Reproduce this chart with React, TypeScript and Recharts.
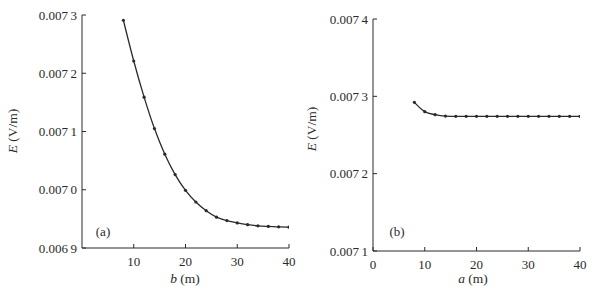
import React from 'react';
import { LineChart, Line, XAxis, YAxis } from 'recharts';

const bValues = [8, 10, 12, 14, 16, 18, 20, 22, 24, 26, 28, 30, 32, 34, 36, 38, 40];
const eValuesA = [
  0.007291, 0.007221, 0.007159, 0.007105, 0.007061, 0.007026, 0.006999, 0.006979,
  0.006964, 0.006953, 0.006947, 0.006943, 0.00694, 0.006938, 0.006937, 0.0069363, 0.0069357,
];
const aValues = [8, 10, 12, 14, 16, 18, 20, 22, 24, 26, 28, 30, 32, 34, 36, 38, 40];
const eValuesB = [
  0.0072922, 0.0072802, 0.0072763, 0.0072745, 0.0072742, 0.0072742, 0.0072742, 0.0072742,
  0.0072742, 0.0072742, 0.0072742, 0.0072742, 0.0072742, 0.0072742, 0.0072742, 0.0072742, 0.0072742,
];
const xTicksA = [10, 20, 30, 40];
const yTicksA = [0.0069, 0.007, 0.0071, 0.0072, 0.0073];
const xTicksB = [0, 10, 20, 30, 40];
const yTicksB = [0.0071, 0.0072, 0.0073, 0.0074];

const dataA = bValues.map((b, i) => ({ x: b, e: eValuesA[i] }));
const dataB = aValues.map((a, i) => ({ x: a, e: eValuesB[i] }));

const FONT = '"Liberation Serif", "Times New Roman", serif';
const INK = '#2a2a2a';

const fmtY = (v: number) => {
  const s = v.toFixed(4);
  return s.slice(0, -1) + '\u2009' + s.slice(-1);
};

const YTick = (props: any) => {
  const { x, y, payload } = props;
  return (
    <g>
      <line x1={x} y1={y} x2={x + 4} y2={y} stroke={INK} strokeWidth={1} />
      <text x={x - 5} y={y + 4.5} textAnchor="end" fontFamily={FONT} fontSize={13} fill={INK}>
        {fmtY(payload.value)}
      </text>
    </g>
  );
};

const XTick = (props: any) => {
  const { x, y, payload } = props;
  return (
    <g>
      <line x1={x} y1={y} x2={x} y2={y - 4} stroke={INK} strokeWidth={1} />
      <text x={x} y={y + 18} textAnchor="middle" fontFamily={FONT} fontSize={13} fill={INK}>
        {payload.value}
      </text>
    </g>
  );
};

const YLabel = ({ cx, cy }: { cx: number; cy: number }) => (
  <text
    x={cx}
    y={cy}
    transform={`rotate(-90 ${cx} ${cy})`}
    textAnchor="middle"
    dominantBaseline="central"
    fontFamily={FONT}
    fontSize={13.5}
    fill={INK}
  >
    <tspan fontStyle="italic">E</tspan>
    <tspan> (V/m)</tspan>
  </text>
);

const XLabel = ({ cx, cy, v }: { cx: number; cy: number; v: string }) => (
  <text x={cx} y={cy} textAnchor="middle" fontFamily={FONT} fontSize={13.5} fill={INK}>
    <tspan fontStyle="italic">{v}</tspan>
    <tspan> (m)</tspan>
  </text>
);

const Dot = (props: any) => {
  const { cx, cy } = props;
  return <circle cx={cx} cy={cy} r={1.6} fill={INK} stroke="none" />;
};

export default function App() {
  return (
    <div style={{ position: 'absolute', left: 0, top: 0, width: 611, height: 294, background: '#fff' }}>
      <div style={{ position: 'absolute', left: 0, top: 0 }}>
        <LineChart width={300} height={294} data={dataA} margin={{ top: 15, right: 11, bottom: 0, left: 22 }}>
          <XAxis
            dataKey="x"
            type="number"
            domain={[0, 40]}
            ticks={xTicksA}
            tickSize={0}
            tickMargin={0}
            tickLine={false}
            axisLine={{ stroke: INK, strokeWidth: 1 }}
            tick={<XTick />}
            height={46}
            allowDataOverflow
          />
          <YAxis
            dataKey="e"
            type="number"
            domain={[0.0069, 0.0073]}
            ticks={yTicksA}
            tickSize={0}
            tickMargin={0}
            tickLine={false}
            axisLine={{ stroke: INK, strokeWidth: 1 }}
            tick={<YTick />}
            width={60}
            allowDataOverflow
          />
          <Line
            type="monotone"
            dataKey="e"
            stroke={INK}
            strokeWidth={1.3}
            dot={<Dot />}
            activeDot={false}
            isAnimationActive={false}
          />
          <YLabel cx={12} cy={131} />
          <XLabel cx={185} cy={283} v="b" />
          <text x={103} y={236} textAnchor="middle" fontFamily={FONT} fontSize={13} fill={INK}>
            (a)
          </text>
        </LineChart>
      </div>
      <div style={{ position: 'absolute', left: 300, top: 0 }}>
        <LineChart width={311} height={294} data={dataB} margin={{ top: 19, right: 31, bottom: 0, left: 13 }}>
          <XAxis
            dataKey="x"
            type="number"
            domain={[0, 40]}
            ticks={xTicksB}
            tickSize={0}
            tickMargin={0}
            tickLine={false}
            axisLine={{ stroke: INK, strokeWidth: 1 }}
            tick={<XTick />}
            height={43}
            allowDataOverflow
          />
          <YAxis
            dataKey="e"
            type="number"
            domain={[0.0071, 0.0074]}
            ticks={yTicksB}
            tickSize={0}
            tickMargin={0}
            tickLine={false}
            axisLine={{ stroke: INK, strokeWidth: 1 }}
            tick={<YTick />}
            width={60}
            allowDataOverflow
          />
          <Line
            type="monotone"
            dataKey="e"
            stroke={INK}
            strokeWidth={1.3}
            dot={<Dot />}
            activeDot={false}
            isAnimationActive={false}
          />
          <YLabel cx={11} cy={129} />
          <XLabel cx={173} cy={283} v="a" />
          <text x={97} y={236} textAnchor="middle" fontFamily={FONT} fontSize={13} fill={INK}>
            (b)
          </text>
        </LineChart>
      </div>
    </div>
  );
}
